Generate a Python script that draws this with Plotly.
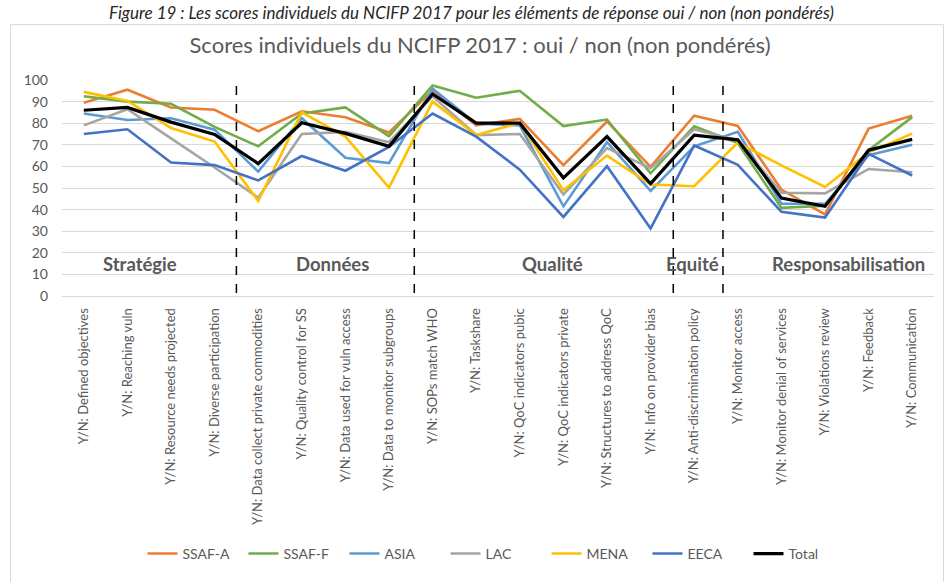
import plotly.graph_objects as go

categories = [
    "Y/N: Defined objectives", "Y/N: Reaching vuln", "Y/N: Resource needs projected",
    "Y/N: Diverse participation", "Y/N: Data collect private commodities",
    "Y/N: Quality control for SS", "Y/N: Data used for vuln access",
    "Y/N: Data to monitor subgroups", "Y/N: SOPs match WHO", "Y/N: Taskshare",
    "Y/N: QoC indicators pubic", "Y/N: QoC indicators private",
    "Y/N: Structures to address QoC", "Y/N: Info on provider bias",
    "Y/N: Anti-discrimination policy", "Y/N: Monitor access",
    "Y/N: Monitor denial of services", "Y/N: Violations review",
    "Y/N: Feedback", "Y/N: Communication",
]

ssaf_a = [89.5, 95.5, 87.3, 86.2, 76.3, 85.5, 82.8, 75.7, 95.2, 79.0,
          82.0, 60.6, 80.8, 59.8, 83.5, 78.7, 49.3, 37.8, 77.5, 83.5]
ssaf_f = [92.5, 90.0, 89.0, 78.3, 69.3, 84.5, 87.3, 74.0, 97.5, 91.8,
          95.0, 78.7, 81.7, 56.8, 78.6, 70.8, 40.8, 41.8, 67.5, 82.8]
asia = [84.5, 81.5, 82.3, 77.0, 57.6, 82.3, 64.0, 61.5, 96.0, 79.8,
        79.0, 41.5, 71.2, 48.7, 69.3, 76.0, 42.7, 42.7, 65.2, 70.0]
lac = [79.0, 86.5, 73.0, 59.5, 45.5, 75.0, 76.0, 71.2, 92.5, 74.5,
       75.0, 47.0, 68.5, 59.2, 77.2, 72.0, 47.8, 47.5, 58.8, 57.3]
mena = [94.5, 90.3, 77.8, 71.5, 44.0, 85.0, 73.8, 50.2, 90.0, 74.5,
        80.2, 49.0, 65.0, 51.6, 50.8, 71.0, 60.5, 50.5, 66.5, 75.2]
eeca = [75.0, 77.2, 61.8, 60.6, 53.5, 64.8, 58.0, 69.0, 84.5, 73.8,
        58.5, 36.6, 60.1, 31.3, 69.7, 60.7, 39.0, 36.3, 65.8, 55.8]
total = [86.0, 87.3, 80.5, 74.8, 61.3, 80.2, 75.3, 69.3, 93.5, 80.0,
         80.0, 54.7, 73.8, 52.0, 74.5, 72.3, 45.3, 41.5, 67.5, 72.5]

series_names = ["SSAF-A", "SSAF-F", "ASIA", "LAC", "MENA", "EECA", "Total"]
series_values = [ssaf_a, ssaf_f, asia, lac, mena, eeca, total]
series_colors = ["#ED7D31", "#70AD47", "#5B9BD5", "#A5A5A5", "#FFC000", "#4472C4", "#000000"]
series_widths = [2.6, 2.6, 2.6, 2.6, 2.6, 2.6, 3.2]

section_labels = ["Stratégie", "Données", "Qualité", "Equité", "Responsabilisation"]
section_x = [1.30, 5.70, 10.76, 13.97, 17.54]
divider_x = [3.5, 7.58, 13.52, 14.66]

title_text = "Scores individuels du NCIFP 2017 : oui / non (non pondérés)"
caption_text = ("Figure 19 : Les scores individuels du NCIFP 2017 pour les éléments "
                "de réponse oui / non (non pondérés)")

FONT = "Lato, 'Open Sans', sans-serif"
GRAY = "#595959"

fig = go.Figure()
for name, vals, col, w in zip(series_names, series_values, series_colors, series_widths):
    fig.add_trace(go.Scatter(
        x=categories, y=vals, name=name, mode="lines",
        line=dict(color=col, width=w),
    ))

for xv in divider_x:
    fig.add_shape(type="line", xref="x", yref="y", x0=xv, x1=xv, y0=1.4, y1=99.3,
                  line=dict(color="black", width=1.5, dash="dash"))

for lbl, xv in zip(section_labels, section_x):
    fig.add_annotation(x=xv, y=14.6, xref="x", yref="y", text="<b>" + lbl + "</b>",
                       showarrow=False, font=dict(family=FONT, size=18.5, color=GRAY),
                       xanchor="center", yanchor="middle")

# chart-area border
fig.add_shape(type="rect", xref="paper", yref="paper",
              x0=(10 - 61.5) / 873, x1=(944 - 61.5) / 873,
              y0=(302.4 - 600) / 222.4, y1=(302.4 - 23) / 222.4,
              line=dict(color="#D9D9D9", width=1), layer="below")

# figure caption at very top
fig.add_annotation(x=(471 - 61.5) / 873, y=(302.4 + 1) / 222.4, xref="paper", yref="paper",
                   text="<i>" + caption_text + "</i>", showarrow=False,
                   font=dict(family=FONT, size=17, color="#262626"),
                   xanchor="center", yanchor="top", borderpad=0)

fig.update_layout(
    width=948, height=582, autosize=False,
    margin=dict(l=61.5, r=13.5, t=79.9, b=279.6, pad=0),
    paper_bgcolor="white", plot_bgcolor="white",
    font=dict(family=FONT, color=GRAY),
    title=dict(text=title_text, x=(480 - 61.5) / 873, xref="paper", xanchor="center",
               y=1 - 45 / 582, yref="container", yanchor="middle",
               font=dict(family=FONT, size=22, color=GRAY)),
    showlegend=True,
    legend=dict(orientation="h", x=(496 - 61.5) / 873, xanchor="center",
                y=(302.4 - 568) / 222.4, yanchor="middle",
                font=dict(family=FONT, size=14, color=GRAY),
                entrywidth=56, entrywidthmode="pixels",
                bgcolor="rgba(0,0,0,0)", traceorder="normal"),
    xaxis=dict(type="category", range=[-0.5, 19.5], showgrid=False, tickangle=-90,
               ticks="", showline=True, linecolor="#D9D9D9", linewidth=1,
               tickfont=dict(family=FONT, size=13, color=GRAY), automargin=False,
               ticklabelstandoff=6),
    yaxis=dict(range=[0, 100], dtick=10, showgrid=True, gridcolor="#D9D9D9", gridwidth=1,
               zeroline=False, ticks="", showline=False,
               tickfont=dict(family=FONT, size=14, color=GRAY), automargin=False,
               ticklabelstandoff=13),
)

fig.write_html("out.html", config={"displayModeBar": False},
               post_script="document.body.style.margin='0';document.body.style.overflow='hidden';")
